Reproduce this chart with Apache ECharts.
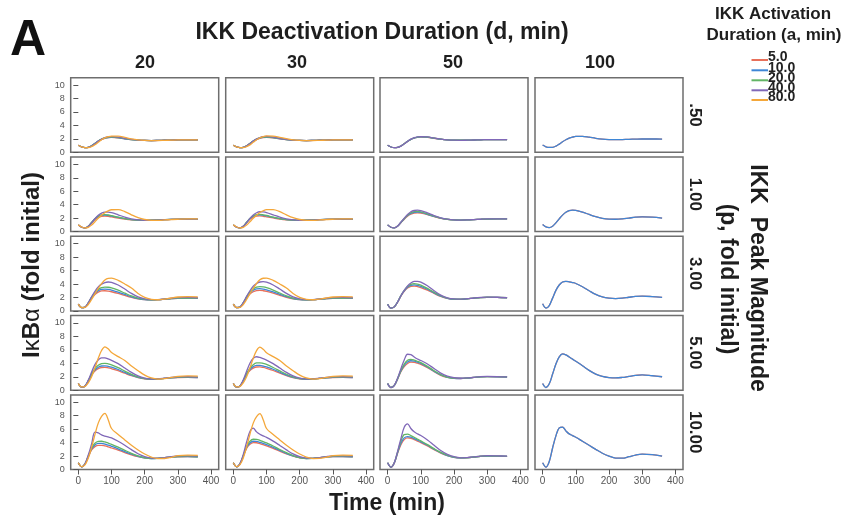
<!DOCTYPE html>
<html><head><meta charset="utf-8">
<script src="https://cdn.jsdelivr.net/npm/echarts@6/dist/echarts.min.js"></script>
<style>html,body{margin:0;padding:0;background:#fff}#c{width:854px;height:523px}</style>
</head><body><div id="c"></div><script>
// ---------- data ----------
const timeMin = [0,10,20,30,40,50,60,70,80,90,100,120,140,160,180,200,220,240,260,280,300,330,360];
const activationLabels = ['5.0','10.0','20.0','40.0','80.0'];
const deactivationLabels = ['20','30','50','100'];
const peakLabels = ['.50','1.00','3.00','5.00','10.00'];
const xTicks = [0,100,200,300,400];
const yTicks = [0,2,4,6,8,10];

// p = 0.50
const p050_d20 = [
 [1.05,0.8,0.7,0.75,0.98,1.32,1.65,1.9,2.07,2.17,2.22,2.15,2.0,1.88,1.8,1.76,1.75,1.77,1.8,1.82,1.84,1.85,1.85],
 [1.05,0.8,0.7,0.75,0.98,1.33,1.67,1.93,2.1,2.2,2.25,2.17,2.01,1.88,1.8,1.76,1.75,1.77,1.8,1.82,1.84,1.85,1.85],
 [1.05,0.8,0.7,0.74,0.97,1.32,1.68,1.95,2.13,2.23,2.27,2.19,2.02,1.89,1.8,1.76,1.75,1.77,1.8,1.82,1.84,1.85,1.85],
 [1.05,0.8,0.7,0.73,0.94,1.28,1.66,1.97,2.18,2.3,2.34,2.26,2.07,1.91,1.81,1.76,1.74,1.76,1.79,1.82,1.84,1.86,1.86],
 [1.05,0.82,0.71,0.7,0.84,1.12,1.5,1.87,2.15,2.33,2.42,2.4,2.22,2.01,1.86,1.78,1.74,1.75,1.78,1.81,1.84,1.86,1.86]];
const p050_d30 = [
 [1.05,0.8,0.7,0.75,0.98,1.31,1.64,1.9,2.07,2.18,2.23,2.16,2.01,1.88,1.8,1.76,1.75,1.77,1.8,1.82,1.84,1.85,1.85],
 [1.05,0.8,0.7,0.75,0.98,1.32,1.67,1.93,2.11,2.21,2.26,2.18,2.02,1.89,1.8,1.76,1.75,1.77,1.8,1.82,1.84,1.85,1.85],
 [1.05,0.8,0.7,0.74,0.97,1.32,1.68,1.96,2.14,2.25,2.29,2.2,2.03,1.89,1.8,1.76,1.75,1.77,1.8,1.82,1.84,1.85,1.85],
 [1.05,0.8,0.7,0.73,0.94,1.28,1.67,1.99,2.2,2.32,2.36,2.27,2.08,1.92,1.81,1.76,1.74,1.76,1.79,1.82,1.84,1.86,1.86],
 [1.05,0.82,0.71,0.7,0.83,1.1,1.48,1.86,2.15,2.34,2.43,2.41,2.23,2.02,1.86,1.78,1.74,1.75,1.78,1.81,1.84,1.86,1.86]];
const p050_d50 = [
 [1.05,0.79,0.69,0.73,0.94,1.27,1.61,1.9,2.1,2.22,2.28,2.24,2.09,1.95,1.85,1.8,1.79,1.8,1.83,1.86,1.88,1.89,1.88],
 [1.05,0.79,0.69,0.73,0.94,1.28,1.62,1.92,2.12,2.24,2.3,2.25,2.1,1.95,1.85,1.8,1.79,1.8,1.83,1.86,1.88,1.89,1.88],
 [1.05,0.79,0.69,0.73,0.94,1.28,1.63,1.93,2.14,2.26,2.32,2.26,2.1,1.95,1.85,1.8,1.79,1.8,1.83,1.86,1.88,1.89,1.88],
 [1.05,0.79,0.69,0.72,0.92,1.26,1.63,1.95,2.17,2.29,2.34,2.28,2.11,1.96,1.85,1.8,1.78,1.8,1.83,1.86,1.88,1.89,1.88]];
const p050_d100 = [
 [1.08,0.82,0.72,0.74,0.92,1.22,1.56,1.86,2.1,2.26,2.36,2.38,2.25,2.08,1.96,1.9,1.88,1.9,1.93,1.96,1.98,1.98,1.97],
 [1.08,0.82,0.72,0.74,0.92,1.22,1.56,1.86,2.1,2.26,2.36,2.38,2.25,2.08,1.96,1.9,1.88,1.9,1.93,1.96,1.98,1.98,1.97]];

// p = 1.00
const p100_d20 = [
 [1.0,0.65,0.55,0.78,1.3,1.8,2.12,2.27,2.3,2.26,2.18,2.02,1.87,1.76,1.7,1.68,1.7,1.74,1.78,1.81,1.83,1.84,1.83],
 [1.0,0.65,0.55,0.8,1.35,1.9,2.25,2.42,2.45,2.4,2.31,2.1,1.92,1.78,1.7,1.67,1.69,1.73,1.78,1.81,1.83,1.84,1.83],
 [1.0,0.65,0.55,0.8,1.36,1.93,2.3,2.48,2.52,2.47,2.37,2.14,1.94,1.79,1.7,1.67,1.69,1.73,1.78,1.82,1.84,1.85,1.84],
 [1.0,0.66,0.55,0.77,1.3,1.92,2.42,2.75,2.9,2.9,2.82,2.5,2.16,1.9,1.75,1.68,1.68,1.72,1.77,1.82,1.85,1.87,1.86],
 [1.0,0.68,0.54,0.62,0.98,1.47,1.98,2.42,2.8,3.08,3.25,3.28,2.98,2.5,2.08,1.8,1.68,1.68,1.73,1.79,1.84,1.88,1.88]];
const p100_d30 = [
 [1.0,0.65,0.55,0.79,1.32,1.83,2.16,2.3,2.33,2.28,2.2,2.03,1.87,1.76,1.7,1.68,1.7,1.74,1.78,1.81,1.83,1.84,1.83],
 [1.0,0.65,0.55,0.8,1.37,1.93,2.28,2.45,2.48,2.42,2.33,2.11,1.92,1.78,1.7,1.67,1.69,1.73,1.78,1.81,1.83,1.84,1.83],
 [1.0,0.65,0.55,0.81,1.39,1.97,2.35,2.53,2.56,2.5,2.4,2.15,1.94,1.79,1.7,1.67,1.69,1.73,1.78,1.82,1.84,1.85,1.84],
 [1.0,0.66,0.55,0.78,1.33,1.97,2.48,2.81,2.95,2.93,2.84,2.5,2.15,1.9,1.75,1.68,1.68,1.72,1.77,1.82,1.85,1.87,1.86],
 [1.0,0.68,0.54,0.62,0.98,1.47,1.99,2.44,2.83,3.1,3.26,3.28,2.97,2.49,2.07,1.8,1.68,1.68,1.73,1.79,1.84,1.88,1.88]];
const p100_d50 = [
 [1.0,0.65,0.56,0.8,1.32,1.85,2.3,2.6,2.76,2.8,2.76,2.52,2.22,1.98,1.82,1.74,1.72,1.74,1.78,1.83,1.87,1.89,1.88],
 [1.0,0.65,0.56,0.81,1.35,1.9,2.38,2.7,2.86,2.9,2.85,2.58,2.26,2.0,1.83,1.74,1.72,1.74,1.78,1.83,1.87,1.89,1.88],
 [1.0,0.65,0.56,0.82,1.38,1.95,2.45,2.8,2.96,3.0,2.94,2.64,2.3,2.02,1.84,1.74,1.72,1.74,1.78,1.83,1.87,1.89,1.88],
 [1.0,0.65,0.56,0.82,1.4,2.0,2.55,2.95,3.14,3.2,3.13,2.78,2.38,2.06,1.86,1.75,1.72,1.74,1.79,1.84,1.88,1.9,1.89]];
const p100_d100 = [
 [1.05,0.7,0.6,0.8,1.3,1.9,2.45,2.88,3.12,3.2,3.16,2.9,2.55,2.22,1.98,1.86,1.84,1.9,2.02,2.14,2.21,2.15,2.02],
 [1.05,0.7,0.6,0.8,1.3,1.9,2.45,2.88,3.12,3.2,3.16,2.9,2.55,2.22,1.98,1.86,1.84,1.9,2.02,2.14,2.2,2.14,2.02]];

// p = 3.00
const p300_d20 = [
 [1.0,0.48,0.55,1.15,1.9,2.45,2.8,2.97,3.0,2.95,2.85,2.6,2.3,2.02,1.8,1.68,1.65,1.68,1.75,1.82,1.87,1.89,1.88],
 [1.0,0.48,0.55,1.18,1.98,2.6,3.0,3.2,3.25,3.2,3.1,2.8,2.45,2.1,1.84,1.68,1.64,1.67,1.75,1.83,1.88,1.9,1.89],
 [1.0,0.48,0.56,1.2,2.05,2.75,3.2,3.45,3.55,3.52,3.42,3.08,2.65,2.23,1.9,1.7,1.64,1.67,1.75,1.84,1.9,1.92,1.9],
 [1.0,0.48,0.56,1.2,2.1,2.9,3.55,3.98,4.22,4.3,4.25,3.85,3.25,2.6,2.1,1.8,1.68,1.68,1.76,1.88,1.97,2.0,1.96],
 [1.0,0.5,0.52,0.95,1.7,2.55,3.35,4.05,4.6,4.85,4.88,4.55,4.0,3.4,2.6,2.0,1.72,1.66,1.75,1.92,2.07,2.12,2.1]];
const p300_d30 = [
 [1.0,0.48,0.56,1.17,1.93,2.5,2.85,3.02,3.05,3.0,2.9,2.63,2.32,2.03,1.8,1.68,1.65,1.68,1.75,1.82,1.87,1.89,1.88],
 [1.0,0.48,0.56,1.2,2.02,2.66,3.07,3.27,3.3,3.25,3.14,2.83,2.47,2.11,1.84,1.68,1.64,1.67,1.75,1.83,1.88,1.9,1.89],
 [1.0,0.48,0.57,1.22,2.1,2.82,3.28,3.52,3.6,3.56,3.45,3.1,2.66,2.24,1.9,1.7,1.64,1.67,1.75,1.84,1.9,1.92,1.9],
 [1.0,0.48,0.57,1.23,2.16,3.0,3.66,4.08,4.3,4.35,4.27,3.86,3.25,2.6,2.1,1.8,1.68,1.68,1.76,1.88,1.97,2.0,1.96],
 [1.0,0.5,0.52,0.95,1.7,2.56,3.37,4.08,4.62,4.86,4.88,4.55,4.0,3.4,2.6,2.0,1.72,1.66,1.75,1.92,2.07,2.12,2.1]];
const p300_d50 = [
 [1.0,0.42,0.6,1.3,2.2,2.9,3.4,3.65,3.7,3.62,3.48,3.1,2.6,2.15,1.85,1.72,1.72,1.8,1.9,1.98,2.02,2.0,1.96],
 [1.0,0.42,0.6,1.32,2.25,2.98,3.52,3.8,3.88,3.8,3.65,3.22,2.68,2.2,1.87,1.73,1.72,1.8,1.9,1.98,2.02,2.0,1.96],
 [1.0,0.42,0.6,1.33,2.28,3.05,3.62,3.95,4.06,4.0,3.84,3.35,2.78,2.25,1.9,1.75,1.73,1.8,1.9,1.99,2.03,2.01,1.97],
 [1.0,0.42,0.6,1.3,2.25,3.05,3.7,4.15,4.38,4.4,4.28,3.75,3.0,2.35,1.95,1.78,1.75,1.82,1.92,2.0,2.05,2.03,1.98]];
const p300_d100 = [
 [1.05,0.42,0.8,1.9,3.05,3.85,4.3,4.4,4.33,4.22,4.08,3.6,3.0,2.45,2.08,1.9,1.84,1.9,2.03,2.15,2.21,2.13,2.0],
 [1.05,0.42,0.8,1.9,3.05,3.85,4.3,4.4,4.33,4.22,4.08,3.6,3.0,2.45,2.08,1.9,1.84,1.9,2.03,2.15,2.2,2.12,2.0]];

// p = 5.00
const p500_d20 = [
 [1.0,0.45,0.6,1.35,2.25,2.85,3.2,3.38,3.4,3.32,3.2,2.9,2.52,2.15,1.87,1.7,1.65,1.68,1.76,1.84,1.89,1.9,1.88],
 [1.0,0.45,0.6,1.38,2.33,3.0,3.42,3.6,3.62,3.54,3.42,3.08,2.65,2.24,1.92,1.72,1.65,1.68,1.76,1.85,1.9,1.91,1.89],
 [1.0,0.45,0.61,1.42,2.42,3.2,3.7,3.95,4.0,3.92,3.78,3.35,2.85,2.36,1.98,1.74,1.65,1.67,1.76,1.86,1.92,1.93,1.9],
 [1.0,0.45,0.62,1.5,2.7,3.8,4.5,4.82,4.8,4.65,4.45,3.95,3.3,2.65,2.12,1.8,1.67,1.68,1.78,1.9,1.98,2.0,1.96],
 [1.0,0.48,0.55,1.1,2.0,3.3,4.75,5.9,6.45,6.15,5.6,5.0,4.42,3.6,2.9,2.25,1.82,1.66,1.72,1.9,2.07,2.12,2.1]];
const p500_d30 = [
 [1.0,0.45,0.61,1.38,2.3,2.92,3.28,3.45,3.46,3.38,3.25,2.93,2.54,2.16,1.87,1.7,1.65,1.68,1.76,1.84,1.89,1.9,1.88],
 [1.0,0.45,0.61,1.41,2.38,3.08,3.5,3.68,3.7,3.6,3.47,3.12,2.67,2.25,1.92,1.72,1.65,1.68,1.76,1.85,1.9,1.91,1.89],
 [1.0,0.45,0.62,1.45,2.48,3.3,3.8,4.05,4.08,3.98,3.83,3.38,2.87,2.37,1.98,1.74,1.65,1.67,1.76,1.86,1.92,1.93,1.9],
 [1.0,0.45,0.63,1.55,2.82,4.0,4.75,4.98,4.88,4.7,4.48,3.96,3.3,2.65,2.12,1.8,1.67,1.68,1.78,1.9,1.98,2.0,1.96],
 [1.0,0.48,0.55,1.1,2.0,3.3,4.75,5.9,6.4,6.1,5.58,5.0,4.42,3.6,2.9,2.25,1.82,1.66,1.72,1.9,2.07,2.12,2.1]];
const p500_d50 = [
 [1.0,0.4,0.7,1.65,2.75,3.5,3.98,4.18,4.15,4.02,3.85,3.35,2.75,2.22,1.9,1.76,1.74,1.8,1.9,1.98,2.02,2.0,1.96],
 [1.0,0.4,0.7,1.68,2.85,3.68,4.2,4.38,4.32,4.17,3.98,3.45,2.82,2.27,1.92,1.77,1.74,1.8,1.9,1.98,2.02,2.0,1.96],
 [1.0,0.4,0.71,1.72,2.95,3.88,4.45,4.58,4.48,4.3,4.1,3.55,2.9,2.32,1.95,1.78,1.75,1.81,1.9,1.99,2.03,2.01,1.97],
 [1.0,0.4,0.72,1.8,3.2,4.5,5.35,5.3,4.95,4.65,4.42,3.9,3.22,2.55,2.08,1.85,1.78,1.82,1.92,2.01,2.05,2.03,1.98]];
const p500_d100 = [
 [1.0,0.4,0.95,2.4,3.9,4.95,5.4,5.25,4.95,4.62,4.3,3.65,2.95,2.4,2.05,1.88,1.82,1.9,2.05,2.2,2.29,2.16,2.0],
 [1.0,0.4,0.95,2.4,3.9,4.95,5.4,5.25,4.95,4.62,4.3,3.65,2.95,2.4,2.05,1.88,1.82,1.9,2.05,2.2,2.28,2.15,2.0]];

// p = 10.00
const p1000_d20 = [
 [1.0,0.4,0.8,1.9,2.9,3.4,3.6,3.6,3.5,3.36,3.2,2.88,2.52,2.18,1.9,1.72,1.65,1.68,1.76,1.84,1.9,1.91,1.88],
 [1.0,0.4,0.82,1.95,3.05,3.65,3.88,3.88,3.78,3.62,3.45,3.08,2.67,2.28,1.95,1.73,1.64,1.67,1.76,1.85,1.91,1.92,1.89],
 [1.0,0.4,0.84,2.0,3.2,3.9,4.18,4.2,4.1,3.94,3.75,3.32,2.85,2.4,2.02,1.75,1.63,1.65,1.75,1.86,1.93,1.94,1.9],
 [1.0,0.4,0.85,2.15,3.8,5.55,5.45,5.15,4.98,4.84,4.7,4.2,3.6,2.95,2.35,1.92,1.68,1.65,1.76,1.92,2.02,2.04,1.98],
 [1.0,0.42,0.7,1.7,3.3,5.2,6.9,7.9,8.35,7.4,6.1,5.2,4.4,3.6,2.9,2.3,1.85,1.62,1.64,1.82,2.05,2.14,2.1]];
const p1000_d30 = [
 [1.0,0.4,0.82,1.98,3.15,3.75,4.0,3.98,3.86,3.7,3.52,3.15,2.72,2.32,1.98,1.75,1.65,1.67,1.76,1.85,1.91,1.92,1.89],
 [1.0,0.4,0.84,2.02,3.28,3.95,4.2,4.18,4.05,3.88,3.7,3.3,2.84,2.4,2.02,1.76,1.64,1.66,1.76,1.86,1.92,1.93,1.9],
 [1.0,0.4,0.86,2.08,3.45,4.2,4.5,4.48,4.35,4.16,3.95,3.5,2.98,2.5,2.08,1.78,1.64,1.65,1.75,1.87,1.94,1.95,1.91],
 [1.0,0.4,0.88,2.25,4.1,5.65,6.15,5.6,5.25,5.0,4.78,4.22,3.58,2.92,2.32,1.9,1.68,1.66,1.77,1.93,2.03,2.04,1.98],
 [1.0,0.42,0.72,1.72,3.35,5.25,6.9,7.85,8.3,7.4,6.1,5.2,4.4,3.6,2.9,2.3,1.85,1.63,1.65,1.83,2.05,2.13,2.1]];
const p1000_d50 = [
 [1.0,0.35,0.95,2.4,3.7,4.45,4.7,4.65,4.45,4.22,4.0,3.5,2.95,2.45,2.05,1.8,1.72,1.76,1.86,1.96,2.0,1.98,1.94],
 [1.0,0.35,0.97,2.48,3.9,4.7,4.9,4.82,4.6,4.36,4.12,3.6,3.02,2.5,2.08,1.81,1.72,1.76,1.86,1.96,2.01,1.99,1.95],
 [1.0,0.35,1.0,2.6,4.2,5.2,5.25,5.05,4.8,4.52,4.25,3.7,3.1,2.55,2.12,1.83,1.72,1.75,1.86,1.97,2.02,2.0,1.96],
 [1.0,0.35,1.0,2.7,4.6,6.3,6.8,6.1,5.6,5.3,5.05,4.4,3.6,2.82,2.25,1.9,1.74,1.76,1.88,2.0,2.06,2.03,1.98]];
const p1000_d100 = [
 [1.0,0.35,1.2,3.2,5.0,6.2,6.3,5.75,5.3,5.05,4.8,4.2,3.6,3.0,2.42,2.0,1.7,1.68,1.9,2.15,2.29,2.21,2.0],
 [1.0,0.35,1.2,3.2,5.0,6.2,6.3,5.75,5.3,5.05,4.8,4.2,3.6,3.0,2.42,2.0,1.7,1.68,1.9,2.15,2.28,2.2,2.0]];

// ---------- layout / style ----------
const panels = [
  [p050_d20, p050_d30, p050_d50, p050_d100],
  [p100_d20, p100_d30, p100_d50, p100_d100],
  [p300_d20, p300_d30, p300_d50, p300_d100],
  [p500_d20, p500_d30, p500_d50, p500_d100],
  [p1000_d20, p1000_d30, p1000_d50, p1000_d100]
];
const colors = ['#E8705A', '#3E86D6', '#62B565', '#8068B8', '#F4A73A'];
const colLeft = [70.7, 225.7, 380, 535];
const rowTop = [77.7, 157, 236.3, 315.6, 394.9];
const panelW = 148, panelH = 74.6;
const FF = '"Liberation Sans", Arial, Helvetica, sans-serif';

const grids = [], xAxes = [], yAxes = [], series = [];
let gi = 0;
for (let r = 0; r < 5; r++) {
  for (let c = 0; c < 4; c++) {
    grids.push({left: colLeft[c], top: rowTop[r], width: panelW, height: panelH,
      show: true, borderColor: '#6e6e6e', borderWidth: 1.5, backgroundColor: 'transparent'});
    xAxes.push({type: 'value', gridIndex: gi, min: -23, max: 423,
      axisLine: {show: false}, splitLine: {show: false},
      axisTick: {show: r === 4, customValues: xTicks, length: 5, lineStyle: {color: '#555', width: 1}},
      axisLabel: {show: r === 4, customValues: xTicks, fontSize: 10, color: '#555', margin: 7, fontFamily: FF}});
    yAxes.push({type: 'value', gridIndex: gi, min: 0, max: 11.1,
      axisLine: {show: false}, splitLine: {show: false},
      axisTick: {show: c === 0, customValues: yTicks, length: 5, lineStyle: {color: '#555', width: 1}},
      axisLabel: {show: c === 0, customValues: yTicks, fontSize: 9, color: '#555', margin: 6, fontFamily: FF}});
    const rows = panels[r][c];
    rows.forEach((vals, k) => {
      series.push({type: 'line', xAxisIndex: gi, yAxisIndex: gi, name: activationLabels[k],
        data: timeMin.map((t, i) => [t, vals[i]]),
        showSymbol: false, smooth: 0.35, silent: true,
        lineStyle: {width: 1.3, color: colors[k]}, itemStyle: {color: colors[k]}});
    });
    gi++;
  }
}

function txt(x, y, text, font, opts) {
  opts = opts || {};
  return {type: 'text', x: x, y: y, rotation: opts.rot || 0, silent: true,
    style: {text: text, x: 0, y: 0, font: font, fill: opts.fill || '#1e1e1e',
      align: opts.align || 'center', verticalAlign: 'middle',
      textAlign: opts.align || 'center', textVerticalAlign: 'middle', rich: opts.rich}};
}

const graphics = [];
graphics.push(txt(28, 41, 'A', 'bold 50px ' + FF, {fill: '#111'}));
graphics.push(txt(382, 32.5, 'IKK Deactivation Duration (d, min)', 'bold 23px ' + FF));
const headX = [145, 297, 453, 600];
deactivationLabels.forEach((l, i) => graphics.push(txt(headX[i], 63, l, 'bold 18px ' + FF)));
peakLabels.forEach((l, i) => graphics.push(txt(695, rowTop[i] + panelH / 2, l, 'bold 17px ' + FF, {rot: -Math.PI / 2})));
graphics.push(txt(757, 278, 'IKK  Peak Magnitude', 'bold 23px ' + FF, {rot: -Math.PI / 2}));
graphics.push(txt(727, 279, '(p, fold initial)', 'bold 23px ' + FF, {rot: -Math.PI / 2}));
graphics.push(txt(32, 265, 'I{g|κ}B{g|α} (fold initial)', 'bold 24px ' + FF,
  {rot: Math.PI / 2, rich: {g: {font: 'normal 24px ' + FF, fill: '#1e1e1e'}}}));
graphics.push(txt(387, 504, 'Time (min)', 'bold 23px ' + FF));
graphics.push(txt(773, 14, 'IKK Activation', 'bold 17px ' + FF));
graphics.push(txt(774, 35.5, 'Duration (a, min)', 'bold 17px ' + FF));
const legY = [60, 70.3, 80.3, 90.3, 100];
activationLabels.forEach((l, i) => {
  graphics.push({type: 'line', silent: true, shape: {x1: 751.5, y1: legY[i], x2: 768, y2: legY[i]},
    style: {stroke: colors[i], lineWidth: 2}});
  graphics.push(txt(768, legY[i] - 2.5, l, 'bold 14px ' + FF, {align: 'left', fill: '#222'}));
});

const chart = echarts.init(document.getElementById('c'), null, {renderer: 'canvas'});
chart.setOption({
  animation: false,
  backgroundColor: '#fff',
  grid: grids, xAxis: xAxes, yAxis: yAxes, series: series,
  graphic: {elements: graphics}
});
</script></body></html>
